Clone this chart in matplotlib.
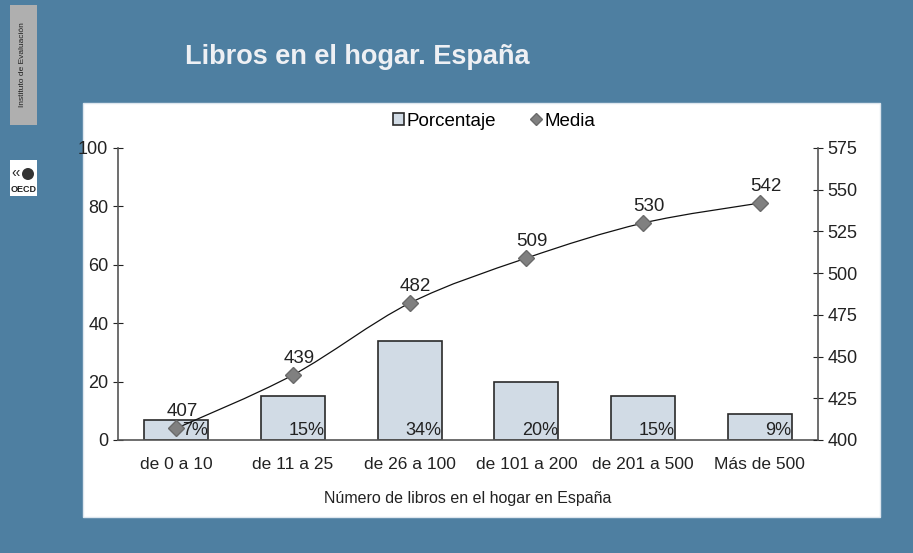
import matplotlib.pyplot as plt
from matplotlib.patches import Rectangle, Ellipse, PathPatch
from matplotlib.path import Path
import numpy as np

# data
categories = ["de 0 a 10", "de 11 a 25", "de 26 a 100", "de 101 a 200", "de 201 a 500", "Más de 500"]
porcentaje = [7, 15, 34, 20, 15, 9]
media = [407, 439, 482, 509, 530, 542]

plt.rcParams['font.family'] = ['Liberation Sans', 'DejaVu Sans']

bg = '#4e7fa1'
fig = plt.figure(figsize=(9.13, 5.53), dpi=100, facecolor=bg)

W, H = 913, 553
def fx(px): return px / W
def fy(py): return 1 - py / H

# white panel
fig.patches.append(Rectangle((fx(83), fy(517)), fx(880) - fx(83), fy(103) - fy(517),
                             transform=fig.transFigure, facecolor='white', edgecolor='#dde6ee',
                             lw=1, zorder=-10))

# left logos (approximate)
fig.patches.append(Rectangle((fx(10), fy(125)), fx(37) - fx(10), fy(5) - fy(125),
                             transform=fig.transFigure, facecolor='#afafaf', edgecolor='none', zorder=-10))
fig.text(fx(23), fy(65), "Instituto de Evaluación", rotation=90, ha='center', va='center',
         fontsize=6, color='#222222')
fig.patches.append(Rectangle((fx(10), fy(196)), fx(37) - fx(10), fy(160) - fy(196),
                             transform=fig.transFigure, facecolor='white', edgecolor='none', zorder=-10))
fig.text(fx(23.5), fy(189), "OECD", ha='center', va='center', fontsize=6.5,
         fontweight='bold', color='#222222')
fig.text(fx(16), fy(173), "‹‹", ha='center', va='center', fontsize=10, color='#222222')
fig.patches.append(Ellipse((fx(28), fy(174)), fx(12), fy(0) - fy(12), transform=fig.transFigure,
                           facecolor='#333333', edgecolor='none', zorder=-5))

# title
fig.text(fx(185), fy(57), "Libros en el hogar. España", color='#eef0f4', fontsize=19.5,
         fontweight='bold', ha='left', va='center')

ax = fig.add_axes([fx(118), fy(440), fx(818) - fx(118), fy(148) - fy(440)])
ax.set_facecolor('white')
x = np.arange(len(categories))
bars = ax.bar(x, porcentaje, width=0.55, color='#d1dbe5', edgecolor='#2a2a2a', lw=1.2,
              label='Porcentaje', zorder=2)
ax.set_xlim(-0.5, len(categories) - 0.5)
ax.set_ylim(0, 100)
ax.set_yticks(range(0, 101, 20))
ax.set_xticks(x)
ax.set_xticklabels(categories)
ax.tick_params(axis='x', length=0, labelsize=12.5, pad=12, colors='#222222')
ax.tick_params(axis='y', direction='inout', length=7, labelsize=13, colors='#222222')
for s in ['top', 'right']:
    ax.spines[s].set_visible(False)
for s in ['left', 'bottom']:
    ax.spines[s].set_color('#555555')
    ax.spines[s].set_linewidth(1.2)
ax.set_xlabel("Número de libros en el hogar en España", fontsize=11.5, color='#222222', labelpad=14)

for xi, p in zip(x, porcentaje):
    ax.text(xi + 0.27, 0.3, f"{p}%", ha='right', va='bottom', fontsize=13, color='#222222', zorder=5)

ax2 = ax.twinx()
ax2.set_ylim(400, 575)
ax2.set_yticks(range(400, 576, 25))
ax2.tick_params(axis='y', direction='inout', length=7, labelsize=13, colors='#222222')
for s in ['top', 'left', 'bottom']:
    ax2.spines[s].set_visible(False)
ax2.spines['right'].set_color('#555555')
ax2.spines['right'].set_linewidth(1.2)

# smooth curve (Catmull-Rom as cubic Bezier through the data points)
pts = np.column_stack([x, media]).astype(float)
verts = [tuple(pts[0])]
codes = [Path.MOVETO]
for i in range(len(pts) - 1):
    p0 = pts[i - 1] if i > 0 else pts[i]
    p1, p2 = pts[i], pts[i + 1]
    p3 = pts[i + 2] if i + 2 < len(pts) else pts[i + 1]
    c1 = p1 + (p2 - p0) / 6
    c2 = p2 - (p3 - p1) / 6
    verts += [tuple(c1), tuple(c2), tuple(p2)]
    codes += [Path.CURVE4] * 3
ax2.add_patch(PathPatch(Path(verts, codes), facecolor='none', edgecolor='#111111', lw=0.9, zorder=3))
ax2.plot(x, media, linestyle='none', marker='D', markersize=8, color='#808080',
         markeredgecolor='#6a6a6a', label='Media', zorder=4)
for xi, m in zip(x, media):
    ax2.text(xi + 0.05, m + 5, str(m), ha='center', va='bottom', fontsize=13.5, color='#222222', zorder=5)

h1, l1 = ax.get_legend_handles_labels()
h2, l2 = ax2.get_legend_handles_labels()
fig.legend(h1 + h2, l1 + l2, loc='center', bbox_to_anchor=(fx(494), fy(121)), ncol=2,
           frameon=False, fontsize=13.5, handlelength=0.6, handleheight=0.6,
           handletextpad=0.15, columnspacing=1.8, markerscale=0.8)

fig.savefig('out.png', dpi=100, facecolor=bg)
